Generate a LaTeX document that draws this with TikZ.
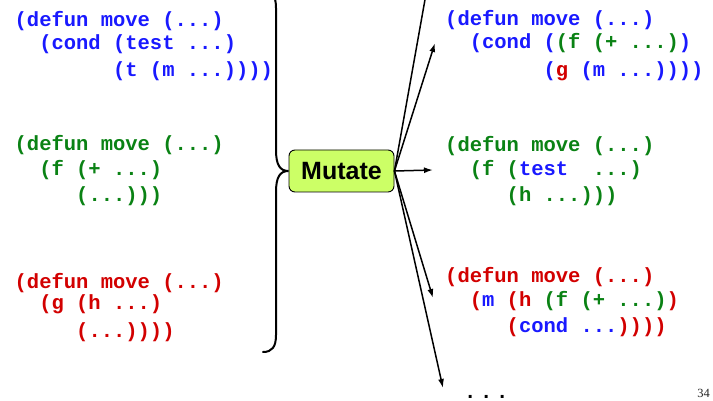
\documentclass[tikz,border=0pt]{standalone}
\usepackage{fontspec}
\newfontfamily\codefont{Liberation Mono}
\newfontfamily\labelfont{Liberation Sans}
\newfontfamily\pagefont{Liberation Serif}
\usetikzlibrary{arrows.meta}

\definecolor{codeblue}{RGB}{25,25,255}
\definecolor{codegreen}{RGB}{10,130,20}
\definecolor{codered}{RGB}{210,0,0}
\definecolor{opfill}{RGB}{204,255,102}

\newcommand\inblue[1]{\textcolor{codeblue}{#1}}
\newcommand\ingreen[1]{\textcolor{codegreen}{#1}}
\newcommand\inred[1]{\textcolor{codered}{#1}}
% leading indentation measured in monospace character cells
\newcommand\codeind[1]{\hspace*{#1\dimexpr 0.6em\relax}}

\tikzset{
  codeline/.style={font=\codefont\bfseries\fontsize{20.5}{24}\selectfont,
    anchor=base west, inner sep=0pt},
  opbox/.style={draw=black, line width=0.9pt, fill=opfill, rounded corners=6pt,
    minimum width=105pt, minimum height=42pt, inner sep=0pt,
    font=\labelfont\bfseries\fontsize{25}{28}\selectfont},
  brace/.style={line width=2pt, line cap=round},
  mutarrow/.style={line width=1.5pt, -{Latex[length=9pt,width=6pt]}}
}

\begin{document}
\begin{tikzpicture}[x=1pt, y=-1pt]
\useasboundingbox (0,0) rectangle (713,401);

% parent programs
\begin{scope}[every node/.style={codeline, text=codeblue}]
  \node (pa1) at (14.5,26.5) {(defun move (...)};
  \node (pa2) at (14.5,49.5) {\codeind{2}(cond (test ...)};
  \node (pa3) at (14.5,77)   {\codeind{8}(t (m ...))))};
\end{scope}
\begin{scope}[every node/.style={codeline, text=codegreen}]
  \node (pb1) at (14.5,151)   {(defun move (...)};
  \node (pb2) at (14.5,176)   {\codeind{2}(f (+ ...)};
  \node (pb3) at (14.5,202)   {\codeind{5}(...)))};
\end{scope}
\begin{scope}[every node/.style={codeline, text=codered}]
  \node (pc1) at (14.5,288)   {(defun move (...)};
  \node (pc2) at (14.5,309)   {\codeind{2}(g (h ...)};
  \node (pc3) at (14.5,337)   {\codeind{5}(...))))};
\end{scope}

% offspring programs
\begin{scope}[every node/.style={codeline, text=codeblue}]
  \node (ca1) at (445,26)   {(defun move (...)};
  \node (ca2) at (445,49)   {\codeind{2}(cond (\ingreen{(f (+ ...)})};
  \node (ca3) at (445,77)   {\codeind{8}(\inred{g} (m ...))))};
\end{scope}
\begin{scope}[every node/.style={codeline, text=codegreen}]
  \node (cb1) at (445,152)  {(defun move (...)};
  \node (cb2) at (445,176)  {\codeind{2}(f (\inblue{test}~~...)};
  \node (cb3) at (445,202)  {\codeind{5}(h ...)))};
\end{scope}
\begin{scope}[every node/.style={codeline, text=codered}]
  \node (cc1) at (445,282)  {(defun move (...)};
  \node (cc2) at (445,306)  {\codeind{2}(\inblue{m} (h \ingreen{(f (+ ...)})};
  \node (cc3) at (445,332)  {\codeind{5}(\inblue{cond ...}))))};
\end{scope}

% mutation operator
\node[opbox] (mut) at (341.5,171) {Mutate};

% brace gathering the parents
\draw[brace] (263,-10) .. controls (272,-10) and (276,-4) .. (276,8)
  -- (276,150) .. controls (276,165) and (280,171) .. (mut.west)
  .. controls (280,171) and (276,177) .. (276,192)
  -- (276,335) .. controls (276,347) and (272,352) .. (263,352);

% more offspring continue beyond the top and bottom
\coordinate (offtop) at (428.5,-20);
\node[codeline, text=black] (more) at (464,398)
  {.\hspace{3.7pt}.\hspace{3.7pt}.};
\coordinate (moretip) at (443,388);
\coordinate (tipa) at (435,43);
\coordinate (tipb) at (433,170);
\coordinate (tipc) at (433,298);

\draw[mutarrow] (mut.east) -- (offtop);
\draw[mutarrow] (mut.east) -- (tipa);
\draw[mutarrow] (mut.east) -- (tipb);
\draw[mutarrow] (mut.east) -- (tipc);
\draw[mutarrow] (mut.east) -- (moretip);

% slide number
\node[anchor=base east, inner sep=0pt, text=black!85,
  font=\pagefont\fontsize{12.5}{14}\selectfont] (pgnum) at (710,397.5) {34};
\end{tikzpicture}
\end{document}
